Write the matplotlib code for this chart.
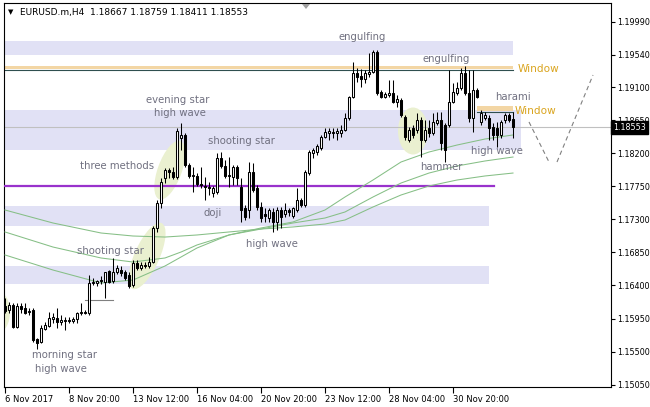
import matplotlib
matplotlib.use("Agg")
import matplotlib.pyplot as plt
from matplotlib.patches import Ellipse, Polygon
from matplotlib.transforms import ScaledTranslation, blended_transform_factory

# EURUSD.m H4 candles, bar 0 = 6 Nov 2017 04:00
opens = [1.1612, 1.1607, 1.1613, 1.1583, 1.1612, 1.1609, 1.1604, 1.1607, 1.1567, 1.1563,
         1.1581, 1.1585, 1.1594, 1.1596, 1.1590, 1.1592, 1.1593, 1.1592, 1.1594, 1.1603,
         1.1604, 1.1603, 1.1643, 1.1643, 1.1646, 1.1645, 1.1660, 1.1646, 1.1658, 1.1661,
         1.1658, 1.1654, 1.1641, 1.1671, 1.1664, 1.1668, 1.1666, 1.1672, 1.1718, 1.1752,
         1.1786, 1.1797, 1.1794, 1.1788, 1.1841, 1.1845, 1.1804, 1.1789, 1.1789, 1.1778,
         1.1775, 1.1774, 1.1766, 1.1767, 1.1813, 1.1803, 1.1789, 1.1788, 1.1801, 1.1774,
         1.1745, 1.1743, 1.1794, 1.1773, 1.1747, 1.1737, 1.1732, 1.1740, 1.1726, 1.1743,
         1.1737, 1.1743, 1.1735, 1.1743, 1.1756, 1.1750, 1.1793, 1.1820, 1.1822, 1.1827,
         1.1842, 1.1847, 1.1847, 1.1847, 1.1847, 1.1852, 1.1868, 1.1896, 1.1929, 1.1925,
         1.1921, 1.1928, 1.1931, 1.1958, 1.1903, 1.1896, 1.1899, 1.1902, 1.1890, 1.1892,
         1.1869, 1.1838, 1.1854, 1.1852, 1.1865, 1.1838, 1.1854, 1.1847, 1.1861, 1.1865,
         1.1858, 1.1858, 1.1890, 1.1902, 1.1909, 1.1929, 1.1902, 1.1868, 1.1906, 1.1862,
         1.1868, 1.1868, 1.1856, 1.1854, 1.1845, 1.1865, 1.1872, 1.18667]
highs = [1.1623, 1.1617, 1.1616, 1.1616, 1.1616, 1.1616, 1.1609, 1.1609, 1.1569, 1.1586,
         1.1590, 1.1604, 1.1603, 1.1609, 1.1600, 1.1597, 1.1597, 1.1597, 1.1604, 1.1616,
         1.1607, 1.1654, 1.1650, 1.1647, 1.1653, 1.1658, 1.1661, 1.1677, 1.1668, 1.1666,
         1.1661, 1.1658, 1.1675, 1.1675, 1.1672, 1.1672, 1.1679, 1.1721, 1.1756, 1.1786,
         1.1800, 1.1800, 1.1801, 1.1854, 1.1861, 1.1847, 1.1807, 1.1801, 1.1793, 1.1801,
         1.1788, 1.1781, 1.1775, 1.1820, 1.1822, 1.1811, 1.1815, 1.1804, 1.1804, 1.1786,
         1.1750, 1.1808, 1.1807, 1.1777, 1.1754, 1.1745, 1.1745, 1.1745, 1.1747, 1.1747,
         1.1752, 1.1745, 1.1747, 1.1773, 1.1759, 1.1797, 1.1824, 1.1827, 1.1833, 1.1845,
         1.1854, 1.1854, 1.1854, 1.1854, 1.1858, 1.1875, 1.1898, 1.1944, 1.1936, 1.1935,
         1.1933, 1.1956, 1.1961, 1.1961, 1.1906, 1.1903, 1.1920, 1.1920, 1.1899, 1.1895,
         1.1872, 1.1856, 1.1858, 1.1875, 1.1869, 1.1865, 1.1865, 1.1875, 1.1876, 1.1876,
         1.1861, 1.1933, 1.1916, 1.1917, 1.1936, 1.1939, 1.1933, 1.1933, 1.1909, 1.1879,
         1.1876, 1.1872, 1.1861, 1.1862, 1.1865, 1.1875, 1.1875, 1.18759]
lows = [1.1603, 1.1603, 1.1582, 1.1582, 1.1603, 1.1601, 1.1600, 1.1563, 1.1554, 1.1562,
        1.1579, 1.1583, 1.1589, 1.1582, 1.1586, 1.1579, 1.1589, 1.1589, 1.1589, 1.1600,
        1.1601, 1.1600, 1.1641, 1.1639, 1.1642, 1.1623, 1.1643, 1.1643, 1.1656, 1.1653,
        1.1647, 1.1637, 1.1638, 1.1661, 1.1661, 1.1664, 1.1664, 1.1671, 1.1713, 1.1745,
        1.1779, 1.1786, 1.1785, 1.1785, 1.1824, 1.1801, 1.1786, 1.1767, 1.1775, 1.1773,
        1.1756, 1.1763, 1.1760, 1.1764, 1.1800, 1.1786, 1.1774, 1.1777, 1.1777, 1.1726,
        1.1729, 1.1732, 1.1767, 1.1743, 1.1726, 1.1726, 1.1726, 1.1713, 1.1715, 1.1718,
        1.1733, 1.1735, 1.1732, 1.1740, 1.1747, 1.1747, 1.1790, 1.1813, 1.1817, 1.1824,
        1.1841, 1.1838, 1.1841, 1.1838, 1.1842, 1.1850, 1.1865, 1.1895, 1.1917, 1.1910,
        1.1916, 1.1924, 1.1929, 1.1899, 1.1895, 1.1895, 1.1896, 1.1888, 1.1883, 1.1869,
        1.1838, 1.1835, 1.1841, 1.1847, 1.1815, 1.1835, 1.1842, 1.1845, 1.1858, 1.1824,
        1.1808, 1.1856, 1.1888, 1.1899, 1.1906, 1.1899, 1.1862, 1.1849, 1.1895, 1.1858,
        1.1865, 1.1838, 1.1838, 1.1828, 1.1841, 1.1861, 1.1862, 1.18411]
closes = [1.1605, 1.1613, 1.1583, 1.1612, 1.1608, 1.1603, 1.1605, 1.1566, 1.1562, 1.1582,
          1.1586, 1.1596, 1.1597, 1.1590, 1.1593, 1.1593, 1.1592, 1.1594, 1.1603, 1.1604,
          1.1603, 1.1643, 1.1645, 1.1646, 1.1647, 1.1658, 1.1645, 1.1658, 1.1664, 1.1657,
          1.1650, 1.1639, 1.1671, 1.1664, 1.1668, 1.1666, 1.1672, 1.1718, 1.1752, 1.1781,
          1.1797, 1.1794, 1.1788, 1.1850, 1.1845, 1.1804, 1.1789, 1.1790, 1.1778, 1.1777,
          1.1774, 1.1773, 1.1773, 1.1813, 1.1803, 1.1789, 1.1790, 1.1801, 1.1786, 1.1743,
          1.1733, 1.1794, 1.1770, 1.1747, 1.1732, 1.1735, 1.1743, 1.1726, 1.1743, 1.1733,
          1.1743, 1.1740, 1.1745, 1.1756, 1.1750, 1.1794, 1.1822, 1.1824, 1.1830, 1.1842,
          1.1849, 1.1850, 1.1849, 1.1850, 1.1852, 1.1868, 1.1896, 1.1929, 1.1924, 1.1921,
          1.1929, 1.1931, 1.1958, 1.1902, 1.1896, 1.1901, 1.1902, 1.1890, 1.1894, 1.1872,
          1.1842, 1.1852, 1.1845, 1.1865, 1.1838, 1.1852, 1.1847, 1.1862, 1.1865, 1.1834,
          1.1824, 1.1890, 1.1903, 1.1909, 1.1929, 1.1902, 1.1868, 1.1906, 1.1896, 1.1875,
          1.1872, 1.1854, 1.1845, 1.1845, 1.1862, 1.1872, 1.1865, 1.18553]

date_ticks = [0, 16, 32, 48, 64, 80, 96, 112]
date_labels = ["6 Nov 2017", "8 Nov 20:00", "13 Nov 12:00", "16 Nov 04:00",
               "20 Nov 20:00", "23 Nov 12:00", "28 Nov 04:00", "30 Nov 20:00"]
price_ticks = [1.15050, 1.15500, 1.15950, 1.16400, 1.16850, 1.17300,
               1.17750, 1.18200, 1.18650, 1.19100, 1.19540, 1.19990]

# moving averages at a few bars
ma_bars = [0, 12, 24, 32, 40, 44, 48, 56, 64, 72, 80, 85, 92, 99, 106, 113, 120, 127]
ma_fast = [1.16815, 1.16610, 1.16434, 1.16474, 1.16665, 1.16787, 1.16910, 1.17087, 1.17182,
           1.17264, 1.17427, 1.17604, 1.17835, 1.18080, 1.18216, 1.18311, 1.18393, 1.18448]
ma_mid = [1.17128, 1.16923, 1.16774, 1.16719, 1.16774, 1.16855, 1.16951, 1.17087, 1.17168,
          1.17250, 1.17318, 1.17400, 1.17604, 1.17794, 1.17930, 1.18026, 1.18094, 1.18148]
ma_slow = [1.17427, 1.17250, 1.17114, 1.17073, 1.17059, 1.17073, 1.17087, 1.17128, 1.17168,
           1.17196, 1.17236, 1.17291, 1.17468, 1.17631, 1.17754, 1.17835, 1.17890, 1.17930]

# (bottom, top, last bar) of the lavender zones
zones = [(1.19536, 1.19727, 126.9), (1.18237, 1.18788, 128.9),
         (1.17209, 1.17481, 121.0), (1.16420, 1.16665, 121.0)]

last_price = 1.18553
support_price = 1.17754
forecast_down = ([131, 136], [1.18625, 1.18080])
forecast_up = ([138, 147], [1.18080, 1.19264])

LABEL_GREY = "#707080"
BAND = "#e1e1f5"
TAN = "#f3d6a4"
HILITE = "#eaf0d0"
MA_GREEN = "#86bf86"

W, H = 650, 407
fig = plt.figure(figsize=(W / 100, H / 100), dpi=100)
ax = fig.add_axes([3.5 / W, 20.5 / H, 607 / W, 383.5 / H])
ax.set_xlim(-0.375, 151.375)
ax.set_ylim(1.15025, 1.20244)
x_left = -0.375

for lo, hi, end in zones:
    ax.fill_between([x_left, end], lo, hi, color=BAND, lw=0, zorder=1)

# windows (gaps)
ax.fill_between([x_left, 126.9], 1.19346, 1.19390, color=TAN, lw=0, zorder=2)
ax.plot([x_left, 126.9], [1.19339, 1.19339], color="#2f4f4f", lw=0.8, zorder=2)
ax.fill_between([118, 127], 1.18774, 1.18842, color=TAN, lw=0, zorder=2)
ax.plot([118, 127], [1.18767, 1.18767], color="#2f4f4f", lw=0.8, zorder=2)

# highlighted candle groups, sized in pixels
for bx, py, w, h, ang in [(-1.5, 1.16039, 22, 40, 0), (35.5, 1.16801, 72, 25, 66),
                          (41.2, 1.17970, 62, 24, 70), (102, 1.18502, 30, 47, 0)]:
    tr = fig.dpi_scale_trans + ScaledTranslation(bx, py, ax.transData)
    ax.add_patch(Ellipse((0, 0), w / 100, h / 100, angle=ang, transform=tr,
                         facecolor=HILITE, edgecolor="none", zorder=2))

ax.axhline(last_price, color="#c0c0c0", lw=0.8, zorder=2)
ax.plot([x_left, 122.25], [support_price, support_price], color="#9932cc", lw=1.6, zorder=3)
ax.plot([20, 27], [1.16202, 1.16202], color="#808080", lw=0.8, zorder=3)

for ys in (ma_fast, ma_mid, ma_slow):
    ax.plot(ma_bars, ys, color=MA_GREEN, lw=0.75, zorder=3)

for dx, dy in [forecast_down, forecast_up]:
    ax.plot(dx, dy, color="#808080", lw=0.8, ls=(0, (4, 3)), zorder=3)

# candles
for i, (o, h, l, c) in enumerate(zip(opens, highs, lows, closes)):
    ax.vlines(i, l, h, color="black", lw=0.75, zorder=4)
    fill = "white" if c > o else "black"
    ax.bar(i, max(abs(c - o), 0.00002), bottom=min(o, c), width=0.5,
           color=fill, edgecolor="black", lw=0.75, zorder=5)

labels = [
    ("engulfing", 89.25, 1.19781), ("engulfing", 110.25, 1.19482),
    ("evening star", 43.25, 1.18924), ("high wave", 43.75, 1.18747),
    ("shooting star", 59, 1.18366), ("three methods", 28, 1.18026),
    ("doji", 52, 1.17386), ("high wave", 66.75, 1.16964),
    ("shooting star", 26.25, 1.16869), ("morning star", 15, 1.15453),
    ("high wave", 14, 1.15263), ("hammer", 109, 1.18012),
    ("high wave", 123, 1.18230), ("harami", 127, 1.18965),
]
for txt, bx, py in labels:
    ax.text(bx, py, txt, color=LABEL_GREY, fontsize=7.3, ha="center", va="center", zorder=6)
for bx, py in [(128.25, 1.19346), (127.5, 1.18774)]:
    ax.text(bx, py, "Window", color="#daa520", fontsize=7.6, ha="left", va="center", zorder=6)

# axes styling
for s in ax.spines.values():
    s.set_color("black")
    s.set_linewidth(0.8)
ax.yaxis.tick_right()
ax.set_yticks(price_ticks)
ax.set_yticklabels([f"{p:.5f}" for p in price_ticks])
ax.set_xticks(date_ticks)
ax.set_xticklabels(date_labels, ha="left")
ax.tick_params(axis="y", direction="out", length=3, width=0.8, pad=2, labelsize=5.8)
ax.tick_params(axis="x", direction="out", length=4, width=0.8, pad=2, labelsize=6)

yt = blended_transform_factory(ax.transAxes, ax.transData)
ax.text(1.004, last_price, f"{last_price:.5f}", transform=yt, color="white", fontsize=5.8,
        ha="left", va="center", zorder=7,
        bbox=dict(boxstyle="square,pad=0.25", fc="black", ec="black"))

# small grey shift marker on the top border
fig.add_artist(Polygon([[302 / W, 1 - 4 / H], [310 / W, 1 - 4 / H], [306 / W, 1 - 9 / H]],
                       closed=True, transform=fig.transFigure, fc="#a0a0a0", ec="none"))

fig.text(8 / W, 1 - 12 / H, "\u25bc", fontsize=5, va="center", ha="left")
fig.text(20.5 / W, 1 - 12 / H, "EURUSD.m,H4  1.18667 1.18759 1.18411 1.18553",
         fontsize=6.5, va="center", ha="left")

fig.savefig("out.png", dpi=100)
